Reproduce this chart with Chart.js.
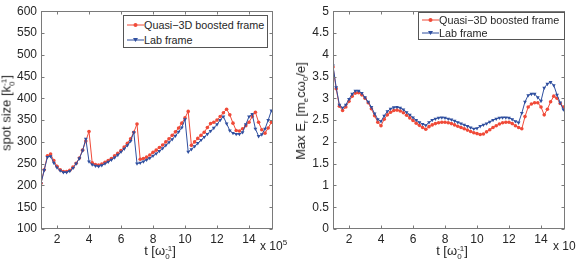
<!DOCTYPE html>
<html><head><meta charset="utf-8">
<script src="https://cdn.jsdelivr.net/npm/chart.js@4"></script>
<style>
body{margin:0;background:#fff;width:576px;height:261px;overflow:hidden;position:relative;font-family:"Liberation Sans",Arial,sans-serif;color:#262626}
.c{position:absolute;top:0;width:288px;height:261px}
.t{position:absolute;white-space:nowrap;font-size:13px;line-height:14px}
.rot{transform:translate(-50%,-50%) rotate(-90deg)}
.hc{transform:translate(-50%,-50%)}
.ss{display:inline-block;vertical-align:-4px;font-size:8px;line-height:8px;text-align:left}
.ss span{display:block}
sub{font-size:8px;vertical-align:-3px;line-height:0}
sup{font-size:8px;vertical-align:5px;line-height:0}
.lg{position:absolute;border:1px solid #555;background:#fff;font-size:10.8px;box-sizing:border-box}
.row{position:absolute;left:0;height:14px;line-height:14px;white-space:nowrap}
.row svg{position:absolute;left:3px;top:2px}
.row span{position:absolute;left:20px;top:0}
</style></head><body>
<div class="c" style="left:0"><canvas id="c1" width="288" height="261"></canvas></div>
<div class="c" style="left:288px"><canvas id="c2" width="288" height="261"></canvas></div>

<div class="t rot" style="left:8px;top:113px">spot size [k<span class="ss"><span>-1</span><span>0</span></span>]</div>
<div class="t hc" style="left:160px;top:252px">t [ω<span class="ss"><span>-1</span><span>0</span></span>]</div>
<div class="t" style="left:260px;top:239px;font-size:12px">x 10<sup>5</sup></div>

<div class="t rot" style="left:301px;top:111px">Max E<sub>r</sub> [m<sub>e</sub>cω<sub>0</sub>/e]</div>
<div class="t hc" style="left:452px;top:252px">t [ω<span class="ss"><span>-1</span><span>0</span></span>]</div>
<div class="t" style="left:553px;top:239px;font-size:12px">x 10<sup>5</sup></div>

<div class="lg" style="left:123px;top:15px;width:145px;height:33px">
 <div class="row" style="top:2px"><svg width="17" height="10"><line x1="0" y1="5" x2="17" y2="5" stroke="#f04a38" stroke-width="1"/><circle cx="8.5" cy="5" r="2" fill="#f04a38"/></svg><span>Quasi−3D boosted frame</span></div>
 <div class="row" style="top:17px"><svg width="17" height="10"><line x1="0" y1="5" x2="17" y2="5" stroke="#2f4f9f" stroke-width="1"/><polygon points="6,3 11,3 8.5,7" fill="#2f4f9f"/></svg><span>Lab frame</span></div>
</div>
<div class="lg" style="left:418px;top:12px;width:147px;height:28px">
 <div class="row" style="top:0px"><svg width="17" height="10"><line x1="0" y1="5" x2="17" y2="5" stroke="#f04a38" stroke-width="1"/><circle cx="8.5" cy="5" r="2" fill="#f04a38"/></svg><span>Quasi−3D boosted frame</span></div>
 <div class="row" style="top:13px"><svg width="17" height="10"><line x1="0" y1="5" x2="17" y2="5" stroke="#2f4f9f" stroke-width="1"/><polygon points="6,3 11,3 8.5,7" fill="#2f4f9f"/></svg><span>Lab frame</span></div>
</div>

<script>
// time axis (units of 1e5 / omega_0)
const tValues = [1,1.2,1.4,1.6,1.8,2,2.2,2.4,2.6,2.8,3,3.2,3.4,3.6,3.8,4,4.2,4.4,4.6,4.8,5,5.2,5.4,5.6,5.8,6,6.2,6.4,6.6,6.8,7,7.2,7.4,7.6,7.8,8,8.2,8.4,8.6,8.8,9,9.2,9.4,9.6,9.8,10,10.2,10.4,10.6,10.8,11,11.2,11.4,11.6,11.8,12,12.2,12.4,12.6,12.8,13,13.2,13.4,13.6,13.8,14,14.2,14.4,14.6,14.8,15,15.2,15.4];

// spot size [1/k0]
const spotBoosted = [205,236,268,272,257,244,236,232,232,235,
  242,251,263,281,302,324,252,248,247,249,
  253,257,262,268,274,280,288,297,307,322,
  341,260,262,265,270,276,281,287,293,300,
  307,315,323,332,343,355,370,292,300,308,
  315,322,333,342,345,350,358,367,375,362,
  343,326,325,330,337,345,358,368,345,328,
  320,332,345];
const spotLab = [205,235,265,267,252,241,234,230,230,233,
  240,250,262,280,307,255,248,245,244,246,
  250,254,259,264,270,277,284,292,302,322,
  250,252,255,259,263,268,273,279,285,292,
  299,306,314,323,333,352,277,283,290,297,
  304,311,318,325,332,340,350,358,342,326,
  320,318,318,322,340,358,364,330,313,317,
  330,350,372];

// max E_r [m_e c omega_0 / e]
const eBoosted = [3.72,3.22,2.82,2.72,2.80,2.93,3.05,3.12,3.13,3.08,
  3.00,2.90,2.76,2.60,2.45,2.37,2.52,2.62,2.68,2.72,
  2.73,2.71,2.67,2.61,2.55,2.49,2.43,2.38,2.33,2.29,
  2.35,2.39,2.42,2.44,2.45,2.45,2.44,2.42,2.39,2.36,
  2.33,2.30,2.27,2.24,2.21,2.19,2.17,2.18,2.23,2.28,
  2.33,2.37,2.41,2.44,2.45,2.45,2.42,2.37,2.33,2.30,
  2.58,2.80,2.87,2.90,2.90,2.80,2.62,2.75,2.92,3.05,
  3.00,2.88,2.80];
const eLab = [3.75,3.25,2.85,2.78,2.85,2.98,3.10,3.17,3.17,3.12,
  3.02,2.92,2.80,2.65,2.52,2.47,2.60,2.70,2.76,2.79,
  2.80,2.78,2.74,2.68,2.62,2.56,2.50,2.45,2.41,2.38,
  2.45,2.50,2.53,2.55,2.56,2.55,2.53,2.51,2.48,2.45,
  2.42,2.39,2.36,2.33,2.30,2.31,2.36,2.39,2.42,2.46,
  2.50,2.53,2.55,2.56,2.56,2.55,2.52,2.47,2.44,2.66,
  2.92,3.07,3.10,3.10,3.02,2.94,3.24,3.33,3.37,3.30,
  3.08,2.90,2.74];

const tTicks = [2,4,6,8,10,12,14];
const spotTicks = [100,150,200,250,300,350,400,450,500,550,600];
const eTicks = [0,0.5,1,1.5,2,2.5,3,3.5,4,4.5,5];

const RED = '#f04a38', BLUE = '#2f4f9f';
Chart.defaults.font.family = '"Liberation Sans", Arial, sans-serif';
Chart.defaults.font.size = 12;
Chart.defaults.color = '#262626';

const frame = {
  id: 'frame',
  afterDraw(chart) {
    const {ctx, chartArea: a} = chart;
    const xs = chart.scales.x, ys = chart.scales.y;
    const L = Math.round(a.left) + 0.5, R = Math.round(a.right) - 0.5;
    const T = Math.round(a.top) + 0.5, B = Math.round(a.bottom) - 0.5;
    ctx.save();
    ctx.strokeStyle = '#7a7a7a';
    ctx.lineWidth = 1;
    ctx.strokeRect(L, T, R - L, B - T);
    ctx.beginPath();
    xs.ticks.forEach(t => {
      const p = Math.round(xs.getPixelForValue(t.value)) + 0.5;
      ctx.moveTo(p, B); ctx.lineTo(p, B - 3);
      ctx.moveTo(p, T); ctx.lineTo(p, T + 3);
    });
    ys.ticks.forEach(t => {
      const p = Math.round(ys.getPixelForValue(t.value)) + 0.5;
      ctx.moveTo(L, p); ctx.lineTo(L + 3, p);
      ctx.moveTo(R, p); ctx.lineTo(R - 3, p);
    });
    ctx.stroke();
    ctx.restore();
  }
};

function makeChart(id, boosted, lab, yMin, yMax, yTicks, yWidth, padRight) {
  const pts = arr => tValues.map((t, i) => ({x: t, y: arr[i]}));
  return new Chart(document.getElementById(id), {
    type: 'line',
    data: {
      datasets: [
        {label: 'Quasi−3D boosted frame', data: pts(boosted), borderColor: RED, backgroundColor: RED,
         borderWidth: 1, pointStyle: 'circle', pointRadius: 1.8, pointBorderWidth: 0, tension: 0, order: 1},
        {label: 'Lab frame', data: pts(lab), borderColor: BLUE, backgroundColor: BLUE,
         borderWidth: 1, pointStyle: 'triangle', rotation: 180, pointRadius: 2.2, pointBorderWidth: 0, tension: 0, order: 0}
      ]
    },
    options: {
      responsive: false, animation: false, devicePixelRatio: 1,
      layout: {padding: {top: 11, right: padRight, left: 0, bottom: 0}},
      plugins: {legend: {display: false}, tooltip: {enabled: false}},
      scales: {
        x: {type: 'linear', min: 1, max: 15.5,
            grid: {display: false, drawTicks: false}, border: {display: false},
            afterBuildTicks: s => { s.ticks = tTicks.map(v => ({value: v})); },
            afterFit: s => { s.height = 32; },
            ticks: {padding: 3, maxRotation: 0, autoSkip: false, callback: v => String(v)}},
        y: {type: 'linear', min: yMin, max: yMax,
            grid: {display: false, drawTicks: false}, border: {display: false},
            afterBuildTicks: s => { s.ticks = yTicks.map(v => ({value: v})); },
            afterFit: s => { s.width = yWidth; },
            ticks: {padding: 4, autoSkip: false, callback: v => String(v)}}
      }
    },
    plugins: [frame]
  });
}

makeChart('c1', spotBoosted, spotLab, 100, 600, spotTicks, 41, 15);
makeChart('c2', eBoosted, eLab, 0, 5, eTicks, 45, 11);
</script>
</body></html>
